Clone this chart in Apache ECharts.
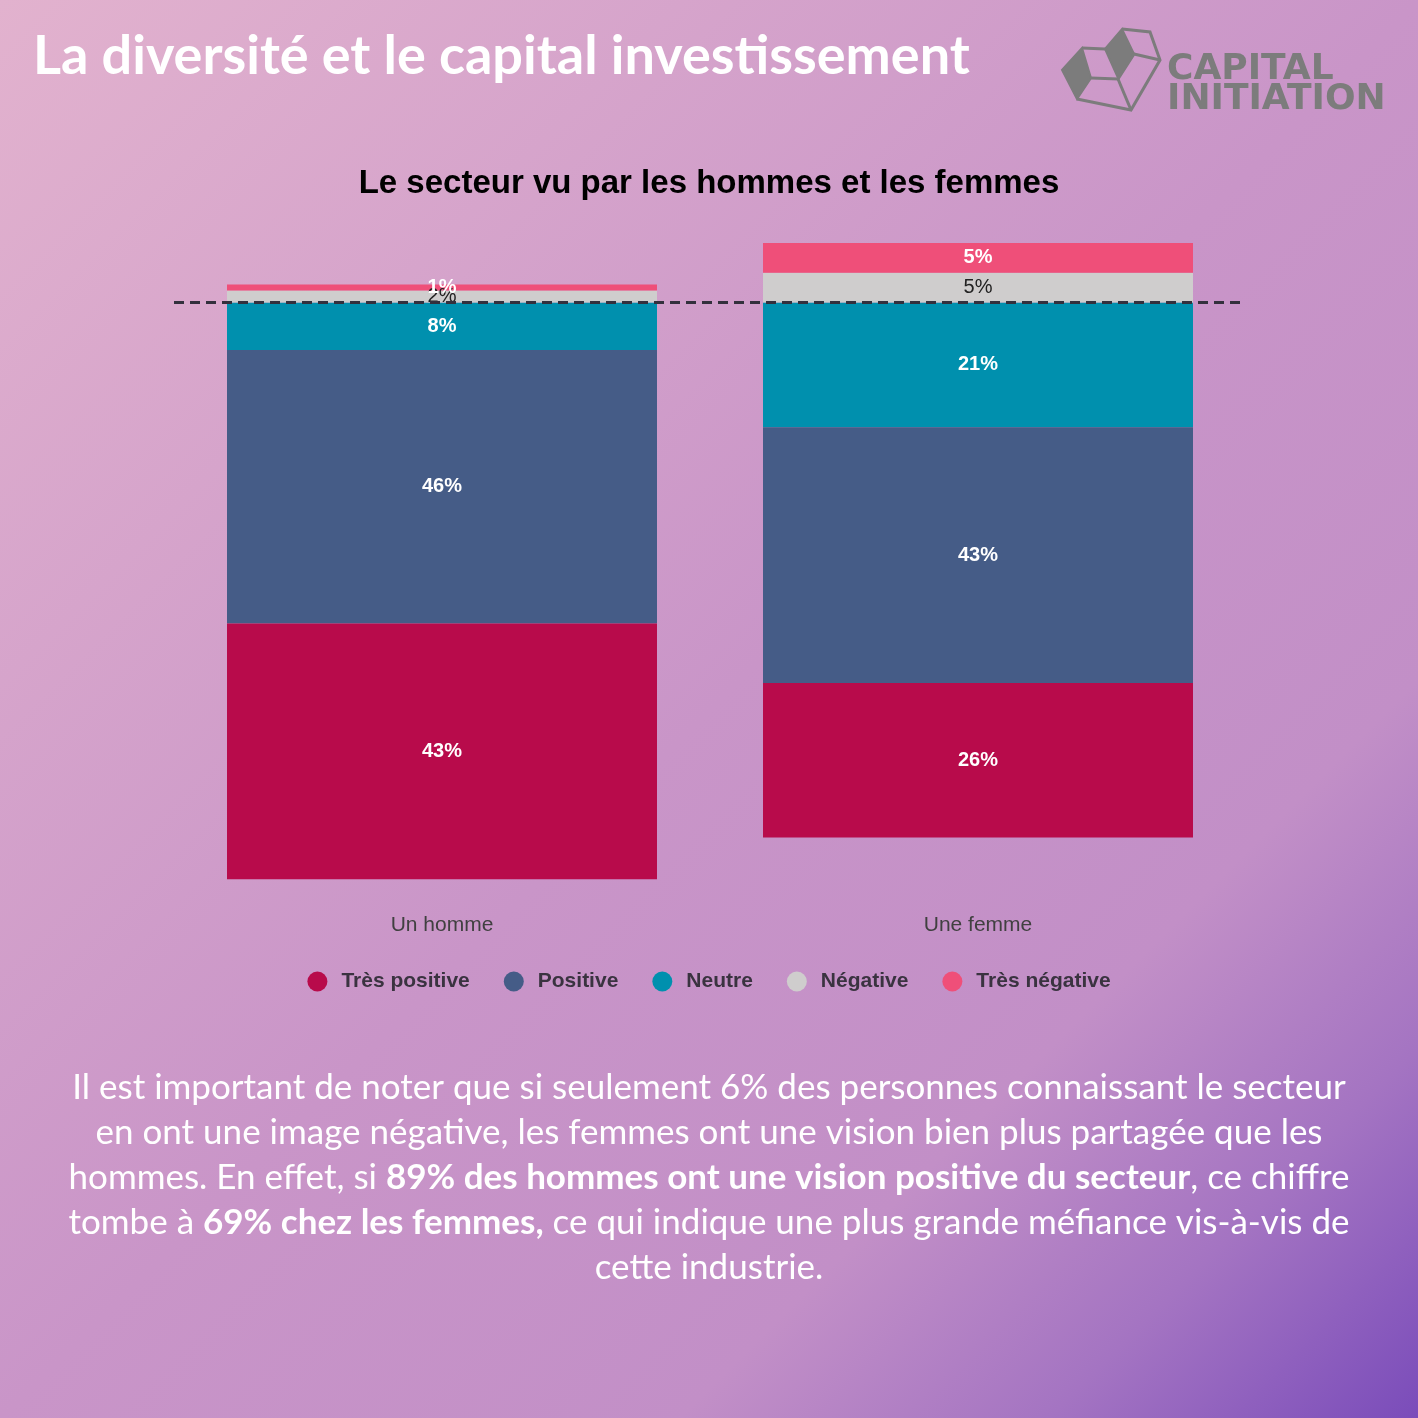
<!DOCTYPE html>
<html>
<head>
<meta charset="utf-8">
<script src="https://cdn.jsdelivr.net/npm/echarts@6/dist/echarts.min.js"></script>
<style>
html,body{margin:0;padding:0;}
#c{width:1418px;height:1418px;}
</style>
</head>
<body>
<div id="c"></div>
<script>
// ---- data ----
const categories = ['Un homme', 'Une femme'];
const tresPositive = [43, 26];
const positive = [46, 43];
const neutre = [8, 21];
const negative = [2, 5];
const tresNegative = [1, 5];
const legendNames = ['Très positive', 'Positive', 'Neutre', 'Négative', 'Très négative'];

const chartTitle = 'Le secteur vu par les hommes et les femmes';
const header = 'La diversité et le capital investissement';

const colors = {
  'Très positive': '#b80b4b',
  'Positive': '#455c87',
  'Neutre': '#0090ae',
  'Négative': '#cfcdcd',
  'Très négative': '#ef4f79'
};

const chart = echarts.init(document.getElementById('c'));

const whiteLabel = {
  show: true, position: 'inside', color: '#ffffff', fontWeight: 'bold',
  fontSize: 20, fontFamily: 'Liberation Sans, Arial, sans-serif',
  formatter: p => Math.abs(p.value) + '%'
};
const darkLabel = Object.assign({}, whiteLabel, {color: '#222222', fontWeight: 'normal'});

function barSeries(name, data, label, extra) {
  return Object.assign({
    name: name, type: 'bar', stack: 'total', barWidth: 430,
    itemStyle: {color: colors[name]},
    label: label,
    data: data
  }, extra || {});
}

const bodyFont = 'Lato, "Open Sans", sans-serif';
const bodySize = 35;
const bodyColor = '#ffffff';
const bodyLines = [
  [['n', 'Il est important de noter que si seulement 6% des personnes connaissant le secteur']],
  [['n', 'en ont une image négative, les femmes ont une vision bien plus partagée que les']],
  [['n', 'hommes. En effet, si '], ['b', '89% des hommes ont une vision positive du secteur'], ['n', ', ce chiffre']],
  [['n', 'tombe à '], ['b', '69% chez les femmes,'], ['n', ' ce qui indique une plus grande méfiance vis-à-vis de']],
  [['n', 'cette industrie.']]
];

const logoGrey = '#7c7c7c';
const graphics = [
  {
    type: 'rect', z: -10, silent: true,
    shape: {x: 0, y: 0, width: 1418, height: 1418},
    style: {
      fill: {
        type: 'linear', x: 0, y: 0, x2: 1, y2: 1, global: false,
        colorStops: [
          {offset: 0, color: '#e2b2ce'},
          {offset: 0.5, color: '#c995c8'},
          {offset: 0.74, color: '#c28fc7'},
          {offset: 0.87, color: '#a474c2'},
          {offset: 1, color: '#7a4cba'}
        ]
      }
    }
  },
  {
    type: 'text', left: 33, top: 30,
    style: {text: header, fill: '#ffffff', font: 'bold 54px Lato, sans-serif'}
  },
  // logo text
  {
    type: 'text', x: 1167, y: 70,
    style: {text: 'CAPITAL', fill: logoGrey, verticalAlign: 'middle', font: 'bold 36px "DejaVu Sans", sans-serif'}
  },
  {
    type: 'text', x: 1167, y: 100,
    style: {text: 'INITIATION', fill: logoGrey, verticalAlign: 'middle', font: 'bold 36px "DejaVu Sans", sans-serif'}
  },
  // logo icon
  {
    type: 'polygon', shape: {points: [[1062, 70], [1082, 48], [1091, 78], [1077, 99]]},
    style: {fill: logoGrey, stroke: logoGrey, lineWidth: 2}
  },
  {
    type: 'polygon', shape: {points: [[1105, 49], [1122, 29], [1134, 54], [1118, 78]]},
    style: {fill: logoGrey, stroke: logoGrey, lineWidth: 2}
  },
  {
    type: 'polyline', shape: {points: [[1077, 99], [1131, 110], [1160, 60], [1150, 32], [1122, 29]]},
    style: {fill: null, stroke: logoGrey, lineWidth: 3}
  },
  {
    type: 'polyline', shape: {points: [[1082, 48], [1105, 49]]},
    style: {fill: null, stroke: logoGrey, lineWidth: 3}
  },
  {
    type: 'polyline', shape: {points: [[1091, 78], [1118, 79], [1134, 54], [1160, 60]]},
    style: {fill: null, stroke: logoGrey, lineWidth: 3}
  },
  {
    type: 'polyline', shape: {points: [[1118, 79], [1131, 110]]},
    style: {fill: null, stroke: logoGrey, lineWidth: 3}
  }
];

bodyLines.forEach((line, i) => {
  let text = line.map(seg => '{' + seg[0] + '|' + seg[1] + '}').join('');
  graphics.push({
    type: 'text', x: 709, y: 1088 + i * 45,
    style: {
      text: text, align: 'center', verticalAlign: 'middle',
      rich: {
        n: {fill: bodyColor, font: 'normal ' + bodySize + 'px ' + bodyFont},
        b: {fill: bodyColor, font: 'bold ' + bodySize + 'px ' + bodyFont}
      }
    }
  });
});

const option = {
  animation: false,
  title: {
    text: chartTitle, left: 'center', top: 162,
    textStyle: {color: '#000000', fontSize: 33, fontWeight: 'bold', fontFamily: 'Liberation Sans, Arial, sans-serif'}
  },
  legend: {
    data: legendNames,
    top: 966, left: 'center',
    icon: 'circle', itemWidth: 30, itemHeight: 20, itemGap: 34,
    textStyle: {color: '#3a3340', fontSize: 21, fontWeight: 'bold', padding: [0, 0, 0, 4], fontFamily: 'Liberation Sans, Arial, sans-serif'}
  },
  grid: {left: 174, right: 172, top: 243, height: 654},
  xAxis: {
    type: 'category', data: categories,
    axisLine: {show: false, onZero: false}, axisTick: {show: false},
    axisLabel: {color: '#404040', fontSize: 21, margin: 18, fontFamily: 'Liberation Sans, Arial, sans-serif'}
  },
  yAxis: {
    type: 'value', inverse: true, min: -10, max: 100, show: false,
    splitLine: {show: false}
  },
  graphic: graphics,
  series: [
    barSeries('Neutre', neutre, whiteLabel, {
      markLine: {
        silent: true, symbol: 'none', z: 10,
        label: {show: false},
        lineStyle: {type: [10, 6], color: '#33303d', width: 3},
        data: [{yAxis: 0}]
      }
    }),
    barSeries('Positive', positive, whiteLabel),
    barSeries('Très positive', tresPositive, whiteLabel),
    barSeries('Négative', negative.map(v => -v), darkLabel),
    barSeries('Très négative', tresNegative.map(v => -v), whiteLabel)
  ]
};

chart.setOption(option);
</script>
</body>
</html>
